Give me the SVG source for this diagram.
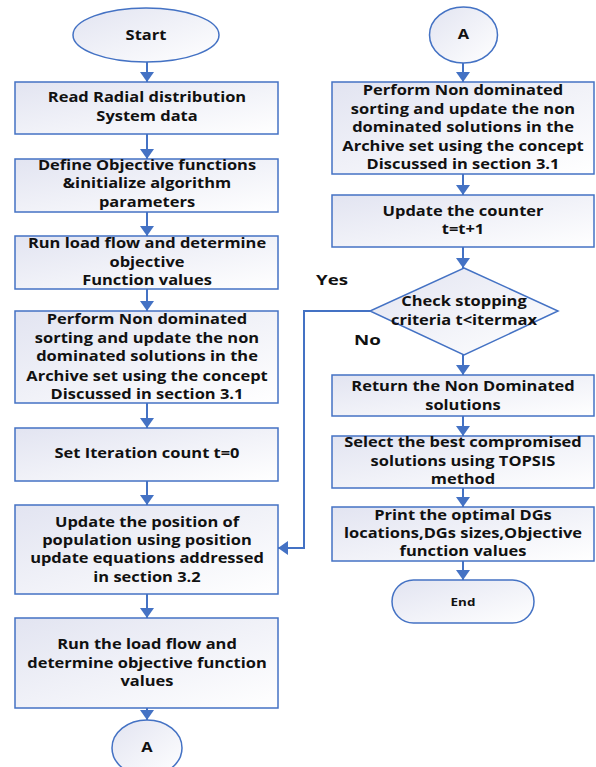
<svg xmlns="http://www.w3.org/2000/svg" width="596" height="767" viewBox="0 0 596 767">
<defs>
<linearGradient id="g" x1="0" y1="0" x2="1" y2="1">
<stop offset="0" stop-color="#e2e4f1"/>
<stop offset="1" stop-color="#ffffff"/>
</linearGradient>
<marker id="ah" viewBox="0 0 10 14" markerWidth="10" markerHeight="14" refX="10" refY="7" orient="auto" markerUnits="userSpaceOnUse">
<path d="M0,0 L10,7 L0,14 z" fill="#4472c4"/>
</marker>
</defs>
<style>
.b{fill:url(#g);stroke:#4472c4;stroke-width:1.5}
.t{font-family:"Open Sans","DejaVu Sans",sans-serif;font-weight:bold;font-size:13.5px;fill:#111;text-anchor:middle}
.l{font-family:"Open Sans","DejaVu Sans",sans-serif;font-weight:bold;font-size:15px;fill:#111}
.c{fill:none;stroke:#4472c4;stroke-width:2;marker-end:url(#ah)}
</style>
<rect width="596" height="767" fill="#fff"/>
<g id="connectors">
<path class="c" d="M147,62 V82"/>
<path class="c" d="M147,134 V159"/>
<path class="c" d="M147,212 V236"/>
<path class="c" d="M147,289 V311"/>
<path class="c" d="M147,403 V428"/>
<path class="c" d="M147,481 V505"/>
<path class="c" d="M147,594 V618"/>
<path class="c" d="M147,708 V720"/>
<path class="c" d="M463,63 V82"/>
<path class="c" d="M463,174 V195"/>
<path class="c" d="M463,247 V268"/>
<path class="c" d="M463,355 V375"/>
<path class="c" d="M463,416 V436"/>
<path class="c" d="M463,488 V507"/>
<path class="c" d="M463,561 V580"/>
<path class="c" d="M370,311 H304 V548 H278"/>
</g>
<g id="start">
<ellipse class="b" cx="146" cy="35" rx="73" ry="27"/>
<g transform="translate(146 0) scale(1.22 1)"><text class="t" x="0" y="40">Start</text></g>
</g>
<g id="read">
<rect class="b" x="15" y="82" width="263" height="52"/>
<g transform="translate(147 0) scale(1.22 1)">
<text class="t" x="0" y="102.5">Read Radial distribution</text>
<text class="t" x="0" y="121.5">System data</text>
</g>
</g>
<g id="define">
<rect class="b" x="15" y="159" width="263" height="53"/>
<g transform="translate(147 0) scale(1.22 1)">
<text class="t" x="0" y="170.5">Define Objective functions</text>
<text class="t" x="0" y="188.5">&amp;initialize algorithm</text>
<text class="t" x="0" y="207.5">parameters</text>
</g>
</g>
<g id="runload">
<rect class="b" x="15" y="236" width="263" height="53"/>
<g transform="translate(147 0) scale(1.22 1)">
<text class="t" x="0" y="248.5">Run load flow and determine</text>
<text class="t" x="0" y="267.5">objective</text>
<text class="t" x="0" y="285.5">Function values</text>
</g>
</g>
<g id="perform1">
<rect class="b" x="15" y="311" width="263" height="92"/>
<g transform="translate(147 0) scale(1.22 1)">
<text class="t" x="0" y="324.5">Perform Non dominated</text>
<text class="t" x="0" y="343">sorting and update the non</text>
<text class="t" x="0" y="361.5">dominated solutions in the</text>
<text class="t" x="0" y="381">Archive set using the concept</text>
<text class="t" x="0" y="399.5">Discussed in section 3.1</text>
</g>
</g>
<g id="setiter">
<rect class="b" x="15" y="428" width="263" height="53"/>
<g transform="translate(147 0) scale(1.22 1)">
<text class="t" x="0" y="457.5">Set Iteration count t=0</text>
</g>
</g>
<g id="updatepos">
<rect class="b" x="15" y="505" width="263" height="89"/>
<g transform="translate(147 0) scale(1.22 1)">
<text class="t" x="0" y="527.5">Update the position of</text>
<text class="t" x="0" y="545.5">population using position</text>
<text class="t" x="0" y="563.5">update equations addressed</text>
<text class="t" x="0" y="582.5">in section 3.2</text>
</g>
</g>
<g id="runload2">
<rect class="b" x="15" y="618" width="263" height="90"/>
<g transform="translate(147 0) scale(1.22 1)">
<text class="t" x="0" y="649.5">Run the load flow and</text>
<text class="t" x="0" y="668.5">determine objective function</text>
<text class="t" x="0" y="686.5">values</text>
</g>
</g>
<g id="a-bottom">
<ellipse class="b" cx="147" cy="748" rx="35" ry="28"/>
<g transform="translate(147 0) scale(1.22 1)"><text class="t" x="0" y="752.5">A</text></g>
</g>
<g id="a-top">
<ellipse class="b" cx="463.5" cy="35" rx="34" ry="28"/>
<g transform="translate(463.5 0) scale(1.22 1)"><text class="t" x="0" y="39.5">A</text></g>
</g>
<g id="perform2">
<rect class="b" x="332" y="82" width="262" height="92"/>
<g transform="translate(463 0) scale(1.22 1)">
<text class="t" x="0" y="95.5">Perform Non dominated</text>
<text class="t" x="0" y="114.5">sorting and update the non</text>
<text class="t" x="0" y="132.5">dominated solutions in the</text>
<text class="t" x="0" y="151.5">Archive set using the concept</text>
<text class="t" x="0" y="169.5">Discussed in section 3.1</text>
</g>
</g>
<g id="counter">
<rect class="b" x="332" y="195" width="262" height="52"/>
<g transform="translate(463 0) scale(1.22 1)">
<text class="t" x="0" y="216.5">Update the counter</text>
<text class="t" x="0" y="234.5">t=t+1</text>
</g>
</g>
<g id="check">
<polygon class="b" points="464,268 558,311 464,355 370,311"/>
<g transform="translate(464 0) scale(1.22 1)">
<text class="t" x="0" y="306.5">Check stopping</text>
<text class="t" x="0" y="325.5">criteria t&lt;itermax</text>
</g>
</g>
<g id="return">
<rect class="b" x="332" y="375" width="262" height="41"/>
<g transform="translate(463 0) scale(1.22 1)">
<text class="t" x="0" y="391.5">Return the Non Dominated</text>
<text class="t" x="0" y="410.5">solutions</text>
</g>
</g>
<g id="select">
<rect class="b" x="332" y="436" width="262" height="52"/>
<g transform="translate(463 0) scale(1.22 1)">
<text class="t" x="0" y="447.5">Select the best compromised</text>
<text class="t" x="0" y="466.5">solutions using TOPSIS</text>
<text class="t" x="0" y="484.5">method</text>
</g>
</g>
<g id="print">
<rect class="b" x="332" y="507" width="262" height="54"/>
<g transform="translate(463 0) scale(1.22 1)">
<text class="t" x="0" y="520.5">Print the optimal DGs</text>
<text class="t" x="0" y="538.5">locations,DGs sizes,Objective</text>
<text class="t" x="0" y="556.5">function values</text>
</g>
</g>
<g id="end">
<rect class="b" x="392" y="580" width="142" height="43" rx="21.5"/>
<g transform="translate(463 0) scale(1.22 1)"><text class="t" x="0" y="606" style="font-size:11px">End</text></g>
</g>
<g id="labels">
<g transform="translate(316 0) scale(1.25 1)"><text class="l" x="0" y="285">Yes</text></g>
<g transform="translate(354 0) scale(1.25 1)"><text class="l" x="0" y="345">No</text></g>
</g>
</svg>
